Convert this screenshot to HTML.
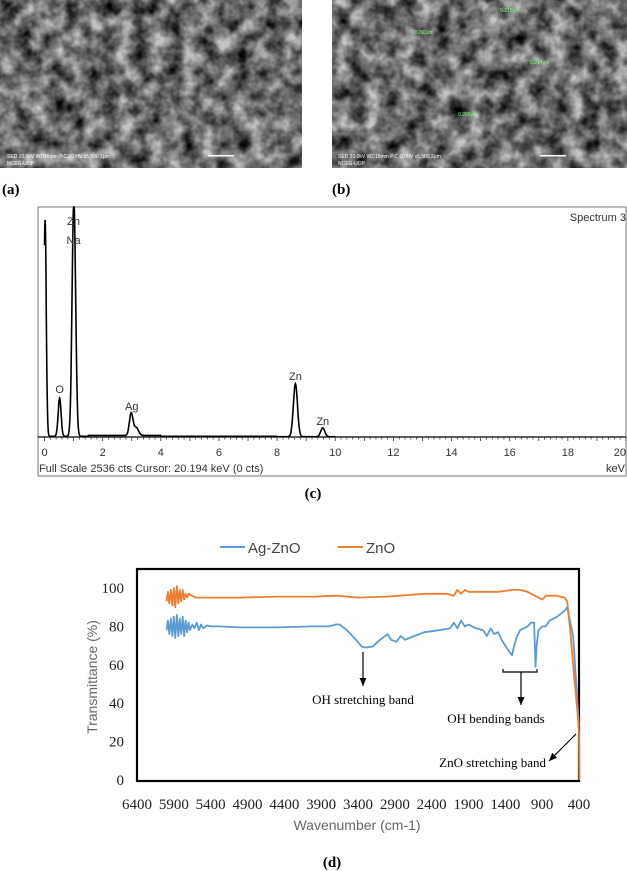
<!DOCTYPE html>
<html><head><meta charset="utf-8">
<style>
body{margin:0;background:#fff;width:627px;height:871px;overflow:hidden;font-family:"Liberation Sans",sans-serif}
svg{position:absolute;left:0;top:0}
</style></head>
<body>
<svg width="627" height="871" viewBox="0 0 627 871">
<defs>
<filter id="sem" x="0" y="0" width="100%" height="100%">
<feTurbulence type="fractalNoise" baseFrequency="0.06" numOctaves="3" seed="4"/>
<feColorMatrix type="matrix" values="0 0 0 0 0  0 0 0 0 0  0 0 0 0 0  0 0 0 -1.5 1.2"/>
<feComposite in2="SourceGraphic" operator="in"/>
</filter>
</defs>
<g>
<rect x="0" y="0" width="302" height="168" fill="#c4c4c4"/>
<rect x="0" y="0" width="302" height="168" fill="#000" filter="url(#sem)"/>
<text x="7" y="158" font-size="5" fill="#fff">SED 20.0kV WD16mm P.C.60 HV    x5,500    2μm</text>
<text x="7" y="165" font-size="5" fill="#fff">NCEG-UOP</text>
<rect x="208" y="155" width="26" height="1.5" fill="#fff"/>
</g>
<g>
<rect x="332" y="0" width="295" height="168" fill="#c4c4c4"/>
<rect x="332" y="0" width="295" height="168" fill="#000" filter="url(#sem)"/>
<text x="338" y="158" font-size="5" fill="#fff">SED 20.0kV WD16mm P.C.60 HV    x5,500    2μm</text>
<text x="338" y="165" font-size="5" fill="#fff">NCEG-UOP</text>
<rect x="540" y="155" width="26" height="1.5" fill="#fff"/>
<text x="414" y="34" font-size="5" fill="#7f7">0.291μm</text>
<text x="500" y="12" font-size="5" fill="#7f7">0.215μm</text>
<text x="530" y="64" font-size="5" fill="#7f7">0.214μm</text>
<text x="458" y="116" font-size="5" fill="#7f7">0.266μm</text>
</g>
<text x="2" y="194" font-family="Liberation Serif" font-weight="bold" font-size="15">(a)</text>
<text x="332" y="194" font-family="Liberation Serif" font-weight="bold" font-size="15">(b)</text>

<g id="eds"></g>
<text x="313" y="498" text-anchor="middle" font-family="Liberation Serif" font-weight="bold" font-size="15">(c)</text>

<g id="ftir"></g>
<text x="332" y="867" text-anchor="middle" font-family="Liberation Serif" font-weight="bold" font-size="15">(d)</text>
</svg>
<script>
const NS='http://www.w3.org/2000/svg';
function mk(p,tag,a,txt){const e=document.createElementNS(NS,tag);for(const k in a)e.setAttribute(k,a[k]);if(txt!==undefined)e.textContent=txt;p.appendChild(e);return e;}

// ---------- EDS data ----------
const edsPeakEnergy=[0.02,0.52,1.01,2.98,3.15,8.63,9.57];
const edsPeakCounts=[2450,430,2700,250,90,600,100];
const edsPeakWidth=[0.04,0.05,0.06,0.06,0.08,0.07,0.07];
const edsLabels=['O','Zn','Na','Ag','Zn','Zn'];
const edsLabelEnergy=[0.52,1.0,1.0,3.0,8.63,9.57];
const edsLabelCounts=[498,2400,2185,306,645,136];
const edsTicks=[0,2,4,6,8,10,12,14,16,18,20];
const EL=38,ER=626,ET=207,EB=476,EBase=437;
const ex=e=>44.5+e/20*(626-44.5);
const ey=c=>EBase-c/2536*(EBase-ET-6);
(function(){
 const g=document.getElementById('eds');
 const box=mk(g,'rect',{x:EL,y:ET,width:ER-EL,height:EB-ET,fill:'#fff',stroke:'#777','stroke-width':1});
 
 
 let d='';
 for(let i=0;i<=1000;i++){
  const e=i*0.01;let c=e>1.5&&e<4?18:(e<8?8:3);
  for(let k=0;k<edsPeakEnergy.length;k++){c+=edsPeakCounts[k]*Math.exp(-Math.pow((e-edsPeakEnergy[k])/edsPeakWidth[k],2)/2);}
  const y=Math.max(ET,ey(c));
  d+=(i?'L':'M')+ex(e).toFixed(1)+','+y.toFixed(1);
 }
 const p=mk(g,'path',{d:d,fill:'none',stroke:'#000','stroke-width':1.6});
 
 
 mk(g,'line',{x1:EL,x2:ER,y1:EBase,y2:EBase,stroke:'#000','stroke-width':1.2});
 for(let t=0;t<=100;t++){const x=ex(t*0.2);mk(g,'line',{x1:x,x2:x,y1:EBase,y2:EBase+(t%5==0?4:2.5),stroke:'#333','stroke-width':0.8});}
 edsTicks.forEach(t=>{const tx=mk(g,'text',{x:ex(t),y:456,'text-anchor':t==20?'end':'middle','font-size':11,fill:'#333'},String(t));
  
  });
 edsLabels.forEach((l,i)=>{const tx=mk(g,'text',{x:ex(edsLabelEnergy[i]),y:ey(edsLabelCounts[i]),'text-anchor':'middle','font-size':11,fill:'#333'},l);
  
  });
 const t1=mk(g,'text',{x:39,y:472,'font-size':11,fill:'#333'},'Full Scale 2536 cts  Cursor: 20.194 keV (0 cts)');
 
 
 const t2=mk(g,'text',{x:625,y:472,'text-anchor':'end','font-size':11,fill:'#333'},'keV');
 
 
 const t3=mk(g,'text',{x:626,y:221,'text-anchor':'end','font-size':11,fill:'#333'},'Spectrum 3');
 
 
})();

// ---------- FTIR data ----------
const agWave=[6000,5980,5960,5940,5920,5900,5880,5860,5840,5820,5800,5780,5760,5740,5720,5700,5680,5650,5620,5590,5560,5530,5500,5450,5400,5300,5000,4500,4000,3800,3700,3650,3550,3450,3350,3300,3200,3100,3000,2950,2880,2820,2760,2700,2500,2300,2150,2100,2050,2000,1950,1900,1800,1700,1650,1600,1550,1500,1450,1400,1350,1310,1280,1250,1200,1100,1050,1010,990,975,950,900,850,800,700,600,560,480,420,400];
const agT=[78,83,76,84,75,85,74,86,75,84,76,85,75,83,77,82,78,81,79,82,78,81,79,80.5,80,80,79.5,79.5,80,80,81,81,78,74,69.5,69,69.5,73,76,73,72,75,73,74,77,78,79,82,79,83,80,81,79,78,75,79,76,77,73,70,67,65,70,74,78,80,82,82,59,70,78,80,80,83,85,88,90,75,40,28];
const znoWave=[6000,5980,5960,5940,5920,5900,5880,5860,5840,5820,5800,5780,5760,5740,5720,5700,5650,5600,5500,5000,4500,4000,3700,3400,3000,2500,2200,2100,2050,2000,1950,1900,1800,1500,1300,1200,1100,1050,1000,950,900,850,800,700,600,560,520,480,420,400,395];
const znoT=[93,98,92,99,91,100,90,101,92,99,93,99,94,97,95,97,96,95,95,95,95.5,95.5,96,95,95.5,97,97,96,99,97,99,98,98,98,99,99,98,97,96,95,94,96,96,96,95,93,78,60,35,25,0];
const yTicks=[0,20,40,60,80,100];
const xTicks=[6400,5900,5400,4900,4400,3900,3400,2900,2400,1900,1400,900,400];
const FL=137,FR=579,FT=569,FB=781;
const fx=w=>FL+(6400-w)/6000*(FR-FL);
const fy=t=>780-t*1.92;
(function(){
 const g=document.getElementById('ftir');
 const fr=mk(g,'rect',{x:FL,y:FT,width:FR-FL,height:FB-FT,fill:'none',stroke:'#000','stroke-width':2.2});
 
 
 function line(ws,ts,col,name){
  const d=ws.map((w,i)=>(i?'L':'M')+fx(w).toFixed(1)+','+fy(ts[i]).toFixed(1)).join('');
  const p=mk(g,'path',{d:d,fill:'none',stroke:col,'stroke-width':1.8,'stroke-linejoin':'round'});
  
  
 }
 line(agWave,agT,'#5b9bd5','series-ag-zno');
 line(znoWave,znoT,'#ed7d31','series-zno');
 yTicks.forEach(t=>{const tx=mk(g,'text',{x:124,y:fy(t)+5,'text-anchor':'end','font-family':'Liberation Serif','font-size':15,fill:'#222'},String(t));
  
  });
 xTicks.forEach(t=>{const tx=mk(g,'text',{x:fx(t),y:809,'text-anchor':'middle','font-family':'Liberation Serif','font-size':15,fill:'#222'},String(t));
  
  });
 const yt=mk(g,'text',{x:0,y:0,transform:'translate(97,677) rotate(-90)','text-anchor':'middle','font-size':14,fill:'#666'},'Transmittance (%)');
 
 
 const xt=mk(g,'text',{x:357,y:830,'text-anchor':'middle','font-size':14,fill:'#666'},'Wavenumber (cm-1)');
 
 
 mk(g,'line',{x1:220,x2:245,y1:547,y2:547,stroke:'#5b9bd5','stroke-width':2});
 const l1=mk(g,'text',{x:248,y:553,'font-size':15,fill:'#444'},'Ag-ZnO');
 
 
 mk(g,'line',{x1:338,x2:363,y1:547,y2:547,stroke:'#ed7d31','stroke-width':2});
 const l2=mk(g,'text',{x:366,y:553,'font-size':15,fill:'#444'},'ZnO');
 
 
 function arrow(x1,y1,x2,y2){
  mk(g,'line',{x1:x1,y1:y1,x2:x2,y2:y2,stroke:'#000','stroke-width':1.2});
  const a=Math.atan2(y2-y1,x2-x1),L=8,W=3.5;
  const p=[[x2,y2],[x2-L*Math.cos(a)+W*Math.sin(a),y2-L*Math.sin(a)-W*Math.cos(a)],[x2-L*Math.cos(a)-W*Math.sin(a),y2-L*Math.sin(a)+W*Math.cos(a)]];
  mk(g,'polygon',{points:p.map(q=>q.join(',')).join(' '),fill:'#000'});
 }
 arrow(363,652,363,686);
 const a1=mk(g,'text',{x:363,y:704,'text-anchor':'middle','font-family':'Liberation Serif','font-size':13},'OH stretching band');
 
 
 mk(g,'path',{d:'M503,669 L503,672 L537,672 L537,669',fill:'none',stroke:'#000','stroke-width':1.2});
 arrow(521,672,521,705);
 const a2=mk(g,'text',{x:496,y:723,'text-anchor':'middle','font-family':'Liberation Serif','font-size':13},'OH bending bands');
 
 
 arrow(576,734,549,761);
 const a3=mk(g,'text',{x:546,y:767,'text-anchor':'end','font-family':'Liberation Serif','font-size':13},'ZnO stretching band');
 
 
})();
</script>
</body></html>
